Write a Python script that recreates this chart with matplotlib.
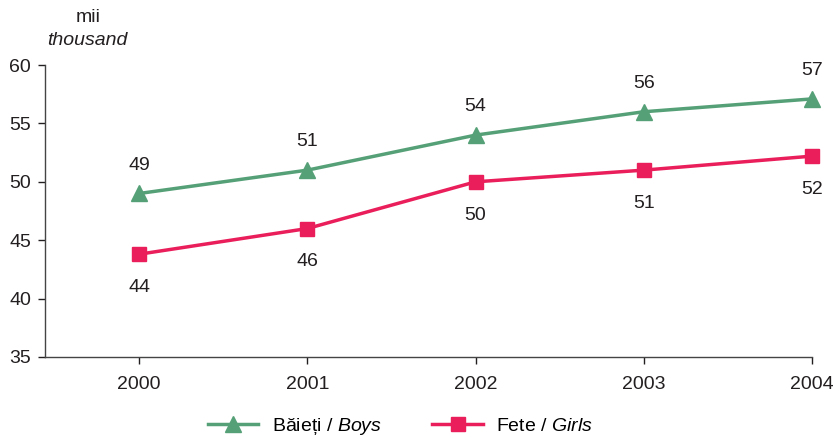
import matplotlib.pyplot as plt
from matplotlib.lines import Line2D

plt.rcParams['font.family'] = ['Liberation Sans', 'DejaVu Sans']
plt.rcParams['mathtext.fontset'] = 'custom'
plt.rcParams['mathtext.rm'] = 'Liberation Sans'
plt.rcParams['mathtext.it'] = 'Liberation Sans:italic'

years = [2000, 2001, 2002, 2003, 2004]
boys = [49.0, 51.0, 54.0, 56.0, 57.1]
girls = [43.8, 46.0, 50.0, 51.0, 52.2]
boys_labels = ['49', '51', '54', '56', '57']
girls_labels = ['44', '46', '50', '51', '52']

green = '#55a077'
pink = '#e91e5a'
txt = '#231f20'
fs = 14

fig = plt.figure(figsize=(8.36, 4.38), dpi=100)
ax = fig.add_axes([0.0538, 0.185, 0.9175, 0.6665])

ax.plot(years, boys, color=green, lw=2.5, marker='^', ms=11, zorder=3, clip_on=False)
ax.plot(years, girls, color=pink, lw=2.5, marker='s', ms=10, zorder=3, clip_on=False)

for x, y, s in zip(years, boys, boys_labels):
    ax.annotate(s, (x, y), xytext=(0, 20.5), textcoords='offset points',
                ha='center', va='center', fontsize=fs, color=txt)
for x, y, s in zip(years, girls, girls_labels):
    ax.annotate(s, (x, y), xytext=(0, -24), textcoords='offset points',
                ha='center', va='center', fontsize=fs, color=txt)

ax.set_xlim(1999.44, 2004)
ax.set_ylim(35, 60)
ax.set_yticks(range(35, 61, 5))
ax.set_xticks(years)
ax.tick_params(labelsize=fs, colors=txt, length=5, width=1, pad=5)
ax.tick_params(axis='x', pad=9)
for sp in ['top', 'right']:
    ax.spines[sp].set_visible(False)
for sp in ['left', 'bottom']:
    ax.spines[sp].set_color('#444444')
    ax.spines[sp].set_linewidth(1)

fig.text(0.105, 0.96, 'mii', ha='center', va='center', fontsize=fs, color=txt)
fig.text(0.105, 0.908, 'thousand', ha='center', va='center', fontsize=fs,
         color=txt, style='italic')

handles = [Line2D([], [], color=green, lw=2.5, marker='^', ms=11),
           Line2D([], [], color=pink, lw=2.5, marker='s', ms=10)]
labels = ['Băieți / $\\it{Boys}$', 'Fete / $\\it{Girls}$']
fig.legend(handles, labels, loc='center', bbox_to_anchor=(0.479, 0.027),
           ncol=2, frameon=False, handlelength=2.6, handletextpad=0.7,
           columnspacing=2.6, prop={'size': fs})

fig.savefig('out.png', dpi=100)
